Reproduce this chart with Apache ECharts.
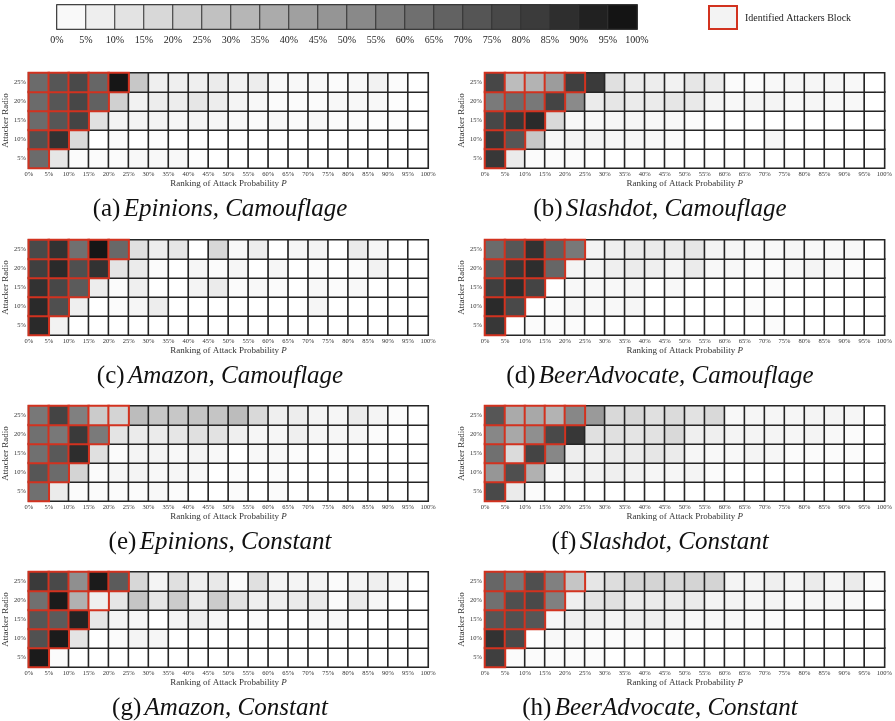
<!DOCTYPE html>
<html><head><meta charset="utf-8">
<script src="https://cdn.jsdelivr.net/npm/echarts@6/dist/echarts.min.js"></script>
<style>html,body{margin:0;padding:0;background:#fff}#c{width:895px;height:721px}</style>
</head><body><div id="c"></div>
<script>
// ---------- data ----------
const xTickLabels = ['0%','5%','10%','15%','20%','25%','30%','35%','40%','45%','50%','55%','60%','65%','70%','75%','80%','85%','90%','95%','100%'];
const rankBins = ['0-5','5-10','10-15','15-20','20-25','25-30','30-35','35-40','40-45','45-50','50-55','55-60','60-65','65-70','70-75','75-80','80-85','85-90','90-95','95-100'];
const attackerRadios = ['5%','10%','15%','20%','25%'];
const legendBinValues = [2.5,7.5,12.5,17.5,22.5,27.5,32.5,37.5,42.5,47.5,52.5,57.5,62.5,67.5,72.5,77.5,82.5,87.5,92.5,97.5];
const legendBlockLabel = 'Identified Attackers Block';

// rows listed from 5% (bottom) to 25% (top); values in percent
const epinionsCamouflage = [
  [64,11,2,2,2,3,3,3,1,0,0,0,0,0,0,0,0,0,0,0],
  [74,86,16,0,2,0,1,0,0,0,0,0,0,0,0,0,0,0,0,0],
  [64,72,79,14,5,5,5,4,5,4,3,2,3,2,3,2,2,1,1,0],
  [64,72,78,68,21,6,8,8,11,8,5,3,2,2,2,3,3,3,1,0],
  [64,72,77,66,97,25,7,7,7,9,6,8,3,3,3,2,3,6,2,0]
];
const slashdotCamouflage = [
  [84,9,2,2,2,0,0,0,0,0,0,0,0,0,0,0,0,0,0,0],
  [84,72,25,4,5,5,4,4,3,2,0,0,0,0,4,0,0,0,0,0],
  [78,84,89,17,3,3,4,4,3,3,2,0,0,0,0,0,0,0,0,0],
  [58,63,59,79,52,9,11,9,9,11,10,5,3,5,5,3,4,3,3,0],
  [78,30,34,44,81,83,14,9,8,6,11,9,2,2,3,4,4,4,3,0]
];
const amazonCamouflage = [
  [89,6,0,0,0,0,0,0,0,0,0,0,0,0,0,0,0,0,0,0],
  [89,75,7,0,2,4,8,0,0,0,0,0,0,0,4,0,0,0,0,0],
  [86,78,70,8,2,7,0,0,5,9,2,3,2,0,3,2,3,0,0,0],
  [81,89,75,86,12,9,2,0,4,2,4,0,4,0,2,0,2,6,0,0],
  [77,86,62,97,65,14,8,11,0,18,3,8,0,4,5,0,9,4,0,0]
];
const beerCamouflage = [
  [84,0,2,2,2,0,0,0,0,0,0,0,0,0,2,0,0,0,0,0],
  [89,77,0,2,4,3,3,4,0,0,0,0,0,2,0,0,0,0,0,0],
  [81,88,79,0,3,3,3,4,0,3,0,0,0,0,2,0,0,0,0,0],
  [72,84,88,66,5,5,7,9,7,5,9,3,3,2,2,3,5,3,2,0],
  [64,72,86,68,59,5,7,9,9,9,11,5,4,3,3,4,3,3,3,0]
];
const epinionsConstant = [
  [62,9,2,2,2,2,3,2,0,0,2,0,2,0,0,0,0,0,0,0],
  [72,64,19,2,4,5,3,4,3,0,2,0,2,0,0,0,0,0,0,0],
  [62,71,88,14,2,5,5,3,5,3,0,3,3,2,0,2,0,0,0,0],
  [62,59,83,58,12,9,9,11,14,13,7,4,4,7,4,4,4,2,0,0],
  [59,79,56,23,19,30,25,25,26,26,30,17,7,8,5,4,9,5,2,0]
];
const slashdotConstant = [
  [77,9,2,0,0,0,0,0,0,0,0,0,0,0,0,0,0,0,0,0],
  [47,75,35,4,6,6,7,6,4,4,5,2,0,0,0,0,0,0,0,0],
  [62,16,79,53,8,7,9,9,11,9,4,3,3,5,4,2,2,2,2,0],
  [53,39,50,77,84,14,14,12,13,17,7,7,5,5,5,4,5,3,2,0],
  [72,38,39,34,53,45,17,18,14,16,13,17,3,4,4,4,5,5,4,0]
];
const amazonConstant = [
  [95,2,0,0,0,0,0,0,0,0,0,0,0,0,0,0,0,0,0,0],
  [74,95,12,0,2,5,4,0,0,0,0,0,0,0,0,0,0,0,0,0],
  [72,70,92,11,5,4,0,5,7,4,0,2,0,0,3,3,0,0,0,0],
  [62,95,35,7,11,26,11,23,9,23,13,7,7,9,9,2,9,4,0,0],
  [83,77,50,95,70,18,5,14,7,10,2,14,5,5,5,2,5,7,4,0]
];
const beerConstant = [
  [81,2,2,2,2,2,0,0,0,0,0,0,0,0,0,0,0,0,0,0],
  [86,77,0,3,3,2,2,2,0,2,0,0,0,0,0,0,0,0,0,0],
  [72,74,72,4,7,7,5,7,7,5,3,3,3,2,2,0,0,0,0,0],
  [62,75,77,56,7,12,14,9,9,9,9,5,5,4,5,3,4,4,3,0],
  [66,59,75,56,26,11,15,19,19,18,19,19,5,5,7,5,9,5,9,2]
];

const panelTags = ['(a)','(b)','(c)','(d)','(e)','(f)','(g)','(h)'];
const panelNames = ['Epinions, Camouflage','Slashdot, Camouflage','Amazon, Camouflage','BeerAdvocate, Camouflage',
                    'Epinions, Constant','Slashdot, Constant','Amazon, Constant','BeerAdvocate, Constant'];
const panelData = [epinionsCamouflage, slashdotCamouflage, amazonCamouflage, beerCamouflage,
                   epinionsConstant, slashdotConstant, amazonConstant, beerConstant];

// ---------- chart ----------
const FONT = 'Liberation Serif';
const RED = '#d2321f';
const colLeft = [28, 485];
const rowTop = [73, 240, 406, 572];
const capX = [220, 660];
const GW = 400, GH = 95;

const grids = [], xAxes = [], yAxes = [], series = [], graphics = [];
panelData.forEach((rows, p) => {
  const c = p % 2, r = Math.floor(p / 2);
  grids.push({left: colLeft[c], top: rowTop[r], width: GW, height: GH, containLabel: false});
  xAxes.push({type: 'category', gridIndex: p, position: 'top', data: rankBins,
    axisLabel: {show: false}, axisTick: {show: false}, axisLine: {show: false}, splitLine: {show: false}});
  xAxes.push({type: 'value', gridIndex: p, position: 'bottom', min: 0, max: 100, interval: 5,
    axisLabel: {fontFamily: FONT, fontSize: 6.5, color: '#333', margin: 3, showMinLabel: true, showMaxLabel: true,
      formatter: v => xTickLabels[Math.round(v / 5)]},
    axisTick: {show: false}, axisLine: {show: false}, splitLine: {show: false},
    name: 'Ranking of Attack Probability {i|P}', nameLocation: 'middle', nameGap: 9,
    nameTextStyle: {fontFamily: FONT, fontSize: 9, color: '#333', rich: {i: {fontFamily: FONT, fontSize: 9, fontStyle: 'italic', color: '#333'}}}});
  yAxes.push({type: 'category', gridIndex: p, data: attackerRadios,
    axisLabel: {fontFamily: FONT, fontSize: 6.5, color: '#333', margin: 3},
    axisTick: {show: false}, axisLine: {show: false}, splitLine: {show: false},
    name: 'Attacker Radio', nameLocation: 'middle', nameGap: 15, nameRotate: 90,
    nameTextStyle: {fontFamily: FONT, fontSize: 9, color: '#333'}});
  const base = [], block = [];
  rows.forEach((row, yi) => row.forEach((v, xi) => {
    base.push([xi, yi, v]);
    if (xi <= yi) block.push([xi, yi, v]);
  }));
  series.push({type: 'heatmap', name: 'cells', xAxisIndex: 2 * p, yAxisIndex: p, data: base,
    itemStyle: {borderColor: '#252525', borderWidth: 1.6}, emphasis: {disabled: true}, silent: true});
  series.push({type: 'heatmap', name: legendBlockLabel, xAxisIndex: 2 * p, yAxisIndex: p, data: block,
    itemStyle: {borderColor: RED, borderWidth: 2}, emphasis: {disabled: true}, silent: true});
  graphics.push({type: 'text', x: capX[c], y: rowTop[r] + 136,
    style: {text: '{n|' + panelTags[p] + '} {i|' + panelNames[p] + '}', textAlign: 'center', textVerticalAlign: 'middle',
      rich: {n: {fontFamily: FONT, fontSize: 25, fill: '#111'}, i: {fontFamily: FONT, fontSize: 25, fontStyle: 'italic', fill: '#111'}}}});
});

// colour bar legend
const lg = panelData.length;
grids.push({left: 57, top: 5, width: 580, height: 24, show: true, borderColor: '#111', borderWidth: 1.5, backgroundColor: 'transparent'});
xAxes.push({type: 'category', gridIndex: lg, position: 'top', data: rankBins,
  axisLabel: {show: false}, axisTick: {show: false}, axisLine: {show: false}});
xAxes.push({type: 'value', gridIndex: lg, position: 'bottom', min: 0, max: 100, interval: 5,
  axisLabel: {fontFamily: FONT, fontSize: 10, color: '#222', margin: 6, showMinLabel: true, showMaxLabel: true,
    formatter: v => xTickLabels[Math.round(v / 5)]},
  axisTick: {show: false}, axisLine: {show: false}, splitLine: {show: false}});
yAxes.push({type: 'category', gridIndex: lg, data: ['scale'], axisLabel: {show: false}, axisTick: {show: false}, axisLine: {show: false}});
series.push({type: 'heatmap', name: 'scale', xAxisIndex: 2 * lg, yAxisIndex: lg,
  data: legendBinValues.map((v, i) => [i, 0, v]),
  itemStyle: {borderColor: '#333', borderWidth: 1}, emphasis: {disabled: true}, silent: true});

graphics.push({type: 'rect', shape: {x: 709, y: 6, width: 28, height: 23},
  style: {fill: '#f3f3f3', stroke: RED, lineWidth: 2}});
graphics.push({type: 'text', x: 745, y: 18,
  style: {text: legendBlockLabel, fontFamily: FONT, fontSize: 10, fill: '#222', textVerticalAlign: 'middle'}});

const chart = echarts.init(document.getElementById('c'), null, {renderer: 'canvas'});
chart.setOption({
  backgroundColor: '#ffffff',
  animation: false,
  grid: grids, xAxis: xAxes, yAxis: yAxes,
  visualMap: {type: 'continuous', show: false, min: 0, max: 100, seriesIndex: series.map((s, i) => i),
    inRange: {color: ['#ffffff', '#8f8f8f', '#0e0e0e']}},
  series: series,
  graphic: graphics
});
</script></body></html>
